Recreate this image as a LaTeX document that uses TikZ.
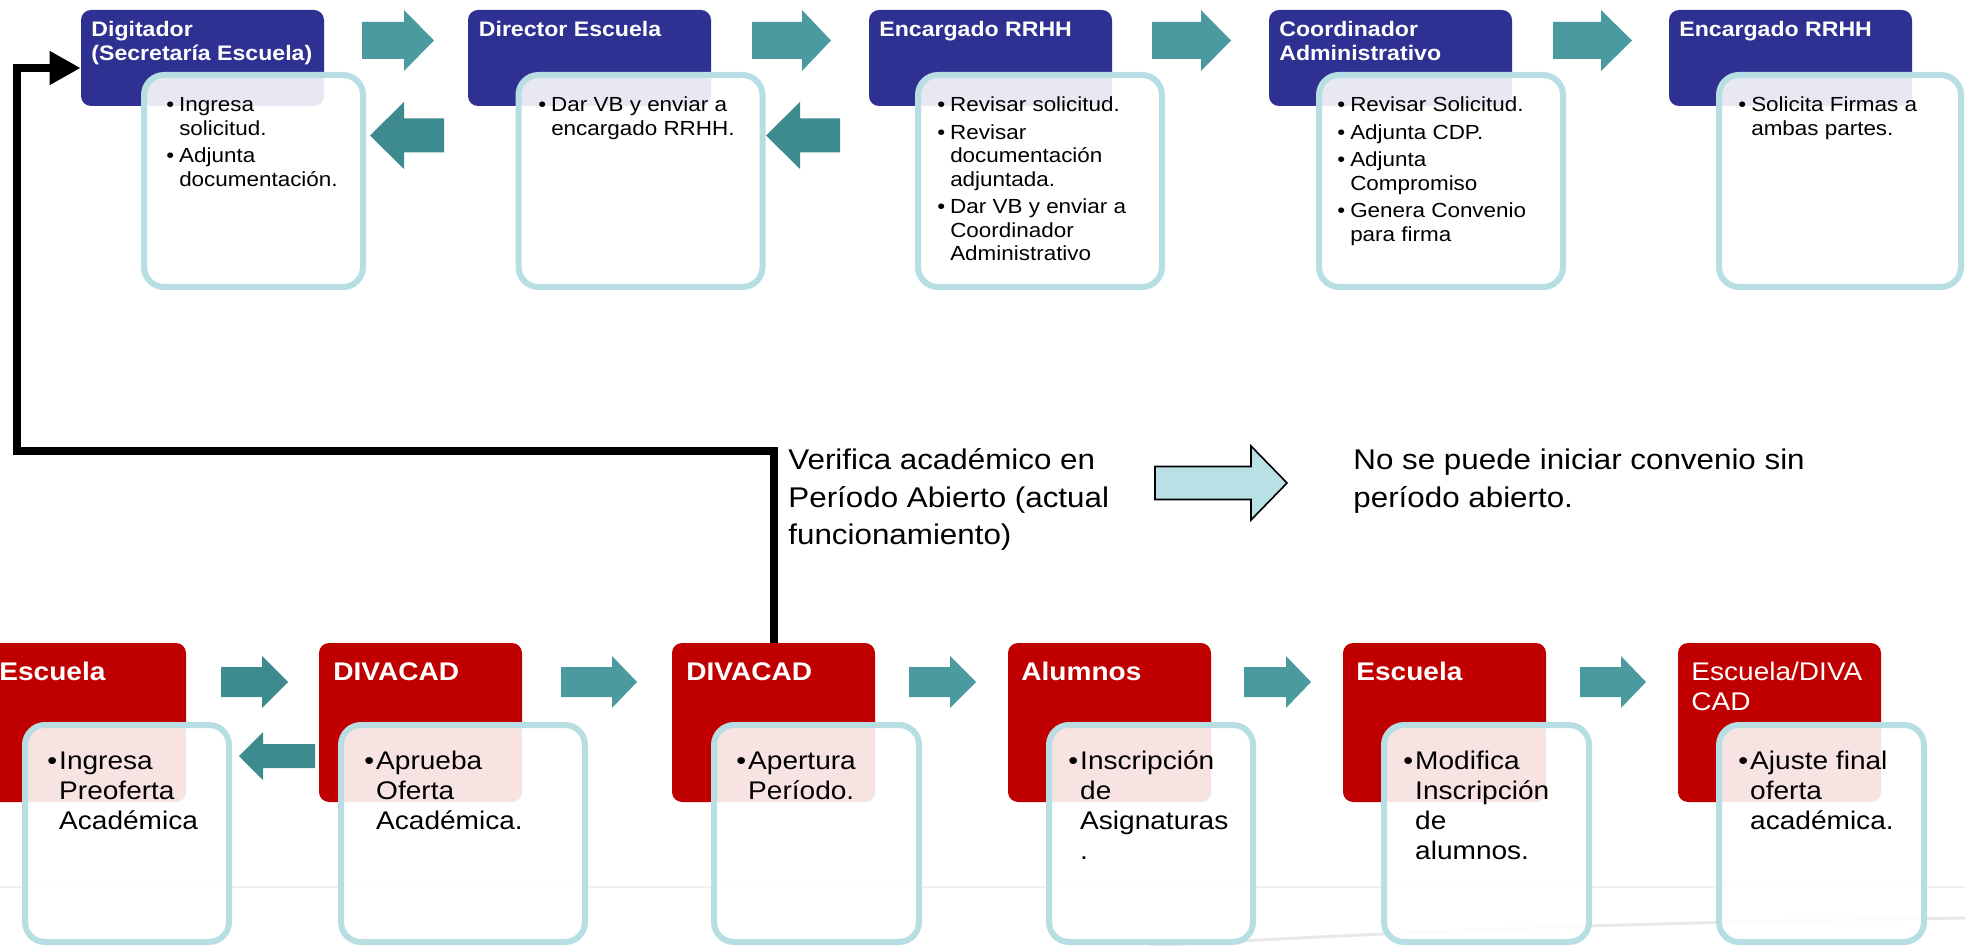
\documentclass[tikz,border=0pt]{standalone}
\usepackage{fontspec}
\setmainfont{Liberation Sans}[FakeStretch=1.1]
\usetikzlibrary{arrows.meta}
\definecolor{navy}{RGB}{46,49,146}
\definecolor{redh}{RGB}{192,0,0}
\definecolor{tealA}{RGB}{74,154,160}
\definecolor{tealB}{RGB}{62,139,143}
\definecolor{lblue}{RGB}{183,222,226}
\definecolor{midfill}{RGB}{185,224,228}
\newcommand{\blockarrow}[8]{\path[#1] (#2,#5-#6) -- (#3,#5-#6) -- (#3,#5-#7) -- (#4,#5) -- (#3,#5+#7) -- (#3,#5+#6) -- (#2,#5+#6) -- cycle #8;}
\tikzset{
  tophdrbox/.style={fill=navy, rounded corners=5pt, minimum width=121.5pt, minimum height=48pt, inner sep=0pt},
  bothdrbox/.style={fill=redh, rounded corners=5pt, minimum width=101.5pt, minimum height=79.5pt, inner sep=0pt},
  stepcard/.style={draw=lblue, line width=3pt, fill=white, fill opacity=0.89, rounded corners=10pt, inner sep=0pt},
  topcard/.style={stepcard, minimum height=106pt},
  botcard/.style={stepcard, minimum height=108.5pt},
  txtbase/.style={inner sep=0pt, anchor=base west},
  tophdr/.style={txtbase, text=white, font=\fontsize{10.5}{11.75}\selectfont\bfseries},
  topbody/.style={txtbase, text=black, font=\fontsize{10.2}{11.75}\selectfont},
  bothdr/.style={txtbase, text=white, font=\fontsize{12.75}{15}\selectfont\bfseries},
  bothdrn/.style={txtbase, text=white, font=\fontsize{12.75}{15}\selectfont},
  botbody/.style={txtbase, text=black, font=\fontsize{12.75}{15}\selectfont},
  midtxt/.style={txtbase, text=black, font=\fontsize{14.25}{18.75}\selectfont},
  conn/.style={line width=4pt, draw=black, -{Triangle[length=15.5pt,width=16pt]}},
}
\newenvironment{topitems}{\begin{tabular}[t]{@{}l@{\hspace{2.5pt}}l@{}}}{\end{tabular}}
\newenvironment{botitems}{\begin{tabular}[t]{@{}l@{\hspace{1pt}}l@{}}}{\end{tabular}}
\newenvironment{txtlines}{\begin{tabular}[t]{@{}l@{}}}{\end{tabular}}
\begin{document}
\begin{tikzpicture}[x=0.5pt,y=-0.5pt]
\useasboundingbox (0,0) rectangle (1965,946);
\clip (0,0) rectangle (1965,946);
% faint background lines
\draw[black!6, line width=1pt] (0,887) -- (1965,887);
\draw[black!9, line width=1.5pt] (1150,946) .. controls (1500,926) and (1700,922) .. (1965,918);

% ---------- top row headers ----------
\node[tophdrbox] (h1) at (202.5,58) {};
\node[tophdrbox] (h2) at (589.5,58) {};
\node[tophdrbox] (h3) at (990.5,58) {};
\node[tophdrbox] (h4) at (1390.5,58) {};
\node[tophdrbox] (h5) at (1790.5,58) {};
% ---------- top row cards ----------
\node[topcard, minimum width=109.5pt] (b1) at (253.5,181) {};
\node[topcard, minimum width=122pt] (b2) at (640.5,181) {};
\node[topcard, minimum width=122pt] (b3) at (1040,181) {};
\node[topcard, minimum width=122pt] (b4) at (1441,181) {};
\node[topcard, minimum width=121pt] (b5) at (1840,181) {};

% ---------- bottom row headers ----------
\node[bothdrbox] (g1) at (84.5,722.5) {};
\node[bothdrbox] (g2) at (420.5,722.5) {};
\node[bothdrbox] (g3) at (773.5,722.5) {};
\node[bothdrbox] (g4) at (1109.5,722.5) {};
\node[bothdrbox] (g5) at (1444.5,722.5) {};
\node[bothdrbox] (g6) at (1779.5,722.5) {};
% ---------- bottom row cards ----------
\node[botcard, minimum width=102pt] (c1) at (127,833.5) {};
\node[botcard, minimum width=122pt] (c2) at (463,833.5) {};
\node[botcard, minimum width=102.5pt] (c3) at (816.5,833.5) {};
\node[botcard, minimum width=102pt] (c4) at (1151,833.5) {};
\node[botcard, minimum width=102.5pt] (c5) at (1486.5,833.5) {};
\node[botcard, minimum width=102.5pt] (c6) at (1821.5,833.5) {};

% ---------- block arrows ----------
\blockarrow{fill=tealA}{362}{404}{434}{40.5}{18.5}{30.5}{}
\blockarrow{fill=tealA}{752}{802}{831}{40.5}{18.5}{30.5}{}
\blockarrow{fill=tealA}{1152}{1201}{1231}{40.5}{18.5}{30.5}{}
\blockarrow{fill=tealA}{1553}{1601}{1632}{40.5}{18.5}{30.5}{}
\blockarrow{fill=tealB}{444}{404}{370}{135.5}{17}{33.5}{}
\blockarrow{fill=tealB}{840}{800}{766}{135.5}{17}{33.5}{}
\blockarrow{fill=tealB}{221}{262}{288}{682}{15}{26}{}
\blockarrow{fill=tealA}{561}{612}{637}{682}{15}{26}{}
\blockarrow{fill=tealA}{909}{950}{976}{682}{15}{26}{}
\blockarrow{fill=tealA}{1244}{1286}{1311}{682}{15}{26}{}
\blockarrow{fill=tealA}{1580}{1621}{1646}{682}{15}{26}{}
\blockarrow{fill=tealB}{315}{263}{239}{756}{12}{24}{}
\blockarrow{fill=midfill, draw=black, line width=0.8pt}{1155}{1251}{1287}{483}{16.5}{37}{}

% ---------- top texts ----------
\node[tophdr] (th1) at (91,37) {\begin{txtlines}Digitador\\(Secretaría Escuela)\end{txtlines}};
\node[tophdr] (th2) at (478.5,37) {\begin{txtlines}Director Escuela\end{txtlines}};
\node[tophdr] (th3) at (879,37) {\begin{txtlines}Encargado RRHH\end{txtlines}};
\node[tophdr] (th4) at (1279,37) {\begin{txtlines}Coordinador\\Administrativo\end{txtlines}};
\node[tophdr] (th5) at (1679,37) {\begin{txtlines}Encargado RRHH\end{txtlines}};

\node[topbody] (tb1) at (166,112) {\begin{topitems}
\textbullet & Ingresa\\ & solicitud.\\[2pt]
\textbullet & Adjunta\\ & documentación.\end{topitems}};
\node[topbody] (tb2) at (538,112) {\begin{topitems}
\textbullet & Dar VB y enviar a\\ & encargado RRHH.\end{topitems}};
\node[topbody] (tb3) at (937,112) {\begin{topitems}
\textbullet & Revisar solicitud.\\[2pt]
\textbullet & Revisar\\ & documentación\\ & adjuntada.\\[2pt]
\textbullet & Dar VB y enviar a\\ & Coordinador\\ & Administrativo\end{topitems}};
\node[topbody] (tb4) at (1337,112) {\begin{topitems}
\textbullet & Revisar Solicitud.\\[2pt]
\textbullet & Adjunta CDP.\\[2pt]
\textbullet & Adjunta\\ & Compromiso\\[2pt]
\textbullet & Genera Convenio\\ & para firma\end{topitems}};
\node[topbody] (tb5) at (1738,112) {\begin{topitems}
\textbullet & Solicita Firmas a\\ & ambas partes.\end{topitems}};

% ---------- bottom texts ----------
\node[bothdr] (gh1) at (-1,680) {Escuela};
\node[bothdr] (gh2) at (333,680) {DIVACAD};
\node[bothdr] (gh3) at (686,680) {DIVACAD};
\node[bothdr] (gh4) at (1021,680) {Alumnos};
\node[bothdr] (gh5) at (1356,680) {Escuela};
\node[bothdrn] (gh6) at (1691,680) {\begin{txtlines}Escuela/DIVA\\CAD\end{txtlines}};

\node[botbody] (gb1) at (47,769) {\begin{botitems}
\textbullet & Ingresa\\ & Preoferta\\ & Académica\end{botitems}};
\node[botbody] (gb2) at (364,769) {\begin{botitems}
\textbullet & Aprueba\\ & Oferta\\ & Académica.\end{botitems}};
\node[botbody] (gb3) at (736,769) {\begin{botitems}
\textbullet & Apertura\\ & Período.\end{botitems}};
\node[botbody] (gb4) at (1068,769) {\begin{botitems}
\textbullet & Inscripción\\ & de\\ & Asignaturas\\ & .\end{botitems}};
\node[botbody] (gb5) at (1403,769) {\begin{botitems}
\textbullet & Modifica\\ & Inscripción\\ & de\\ & alumnos.\end{botitems}};
\node[botbody] (gb6) at (1738,769) {\begin{botitems}
\textbullet & Ajuste final\\ & oferta\\ & académica.\end{botitems}};

% ---------- middle texts ----------
\node[midtxt] (m1) at (788,470) {\begin{txtlines}Verifica académico en\\Período Abierto (actual\\funcionamiento)\end{txtlines}};
\node[midtxt] (m2) at (1353,470) {\begin{txtlines}No se puede iniciar convenio sin\\período abierto.\end{txtlines}};

% ---------- connector ----------
\coordinate (k1) at (16.5,451);
\coordinate (k2) at (16.5,68);
\draw[conn] (g3.north) |- (k1) |- (h1.west |- k2);
\end{tikzpicture}
\end{document}
